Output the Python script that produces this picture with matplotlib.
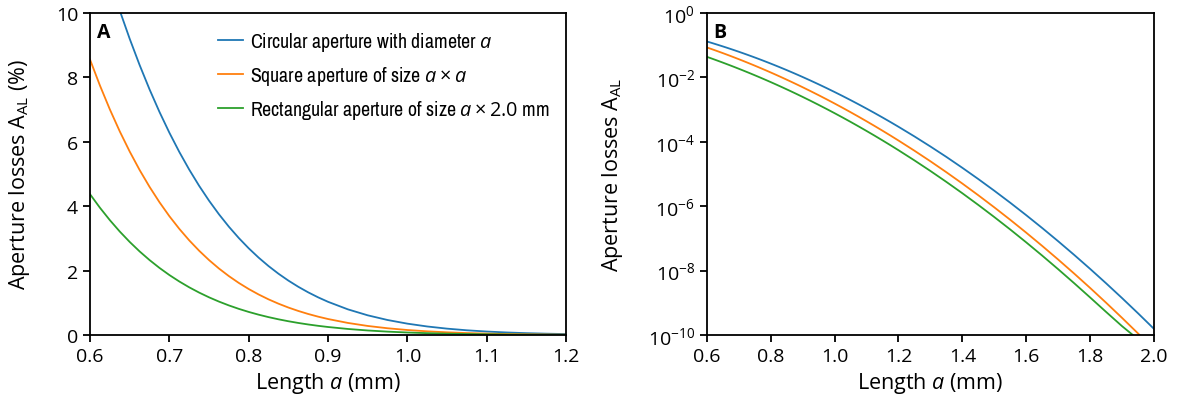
import matplotlib
matplotlib.use("Agg")
import matplotlib.pyplot as plt
from matplotlib import font_manager
from matplotlib.ticker import LogLocator, NullLocator, FormatStrFormatter

# Aperture length a (mm)
a_mm = [0.6000, 0.6125, 0.6250, 0.6375, 0.6500, 0.6625, 0.6750, 0.6875, 0.7000,
        0.7125, 0.7250, 0.7375, 0.7500, 0.7625, 0.7750, 0.7875, 0.8000, 0.8125,
        0.8250, 0.8375, 0.8500, 0.8625, 0.8750, 0.8875, 0.9000,
        0.925, 0.950, 0.975, 1.000, 1.025, 1.050, 1.075, 1.100, 1.125, 1.150,
        1.175, 1.200,
        1.25, 1.30, 1.35, 1.40, 1.45, 1.50, 1.55, 1.60, 1.65, 1.70, 1.75, 1.80,
        1.85, 1.90, 1.95, 2.00]

# Aperture losses (fraction of beam power)
loss_circular = [0.13092, 0.12018, 0.11012, 0.10073, 0.091979, 0.083840, 0.076284,
                 0.069289, 0.062824, 0.056861, 0.051374, 0.046335, 0.041715, 0.037490,
                 0.033634, 0.030121, 0.026928, 0.024031, 0.021407, 0.019037, 0.016899,
                 0.014975, 0.013246, 0.011696, 0.010309,
                 0.0079673, 0.0061141, 0.0046591, 0.0035252, 0.0026486, 0.0019760,
                 0.0014637, 0.0010768, 7.8646e-4, 5.7037e-4, 4.1076e-4, 2.9373e-4,
                 1.4705e-4, 7.1574e-5, 3.3953e-5, 1.5578e-5, 6.9658e-6, 3.0282e-6,
                 1.2798e-6, 5.2579e-7, 2.1000e-7, 8.1542e-8, 3.0780e-8, 1.1295e-8,
                 4.0296e-9, 1.3976e-9, 4.7119e-10, 1.5444e-10]

loss_square = [0.085525, 0.077469, 0.070046, 0.063220, 0.056971, 0.051240, 0.046016,
               0.041244, 0.036901, 0.032970, 0.029401, 0.026178, 0.023267, 0.020646,
               0.018291, 0.016175, 0.014281, 0.012586, 0.011072, 0.0097288, 0.008531,
               0.0074704, 0.0065291, 0.0056981, 0.0049642,
               0.0037489, 0.002811, 0.0020951, 0.0015510, 0.0011406, 8.3309e-4,
               6.0421e-4, 4.3549e-4, 3.1180e-4, 2.2175e-4, 1.5665e-4, 1.0985e-4,
               5.3001e-5, 2.4896e-5, 1.1371e-5, 5.0578e-6, 2.1878e-6, 9.2158e-7,
               3.7776e-7, 1.5054e-7, 5.8418e-8, 2.2036e-8, 8.0932e-9, 2.8917e-9,
               1.0043e-9, 3.3955e-10, 1.1158e-10, 3.5700e-11]

loss_rect = [0.043718, 0.039515, 0.035659, 0.032126, 0.028903, 0.025957, 0.023279,
             0.020839, 0.018624, 0.016623, 0.014810, 0.013176, 0.011702, 0.010377,
             0.0091876, 0.0081207, 0.0071661, 0.0063130, 0.0055515, 0.0048763,
             0.0042745, 0.0037422, 0.0032699, 0.0028531, 0.0024852,
             0.0018762, 0.0014065, 0.0010481, 7.7581e-4, 5.7044e-4, 4.1663e-4,
             3.0215e-4, 2.1777e-4, 1.5591e-4, 1.1088e-4, 7.8329e-5, 5.4927e-5,
             2.6501e-5, 1.2448e-5, 5.6855e-6, 2.5289e-6, 1.0939e-6, 4.6079e-7,
             1.8888e-7, 7.5272e-8, 2.9209e-8, 1.1036e-8, 4.0645e-9, 1.4637e-9,
             5.1998e-10, 1.8763e-10, 7.364e-11, 3.570e-11]

labels = ["Circular aperture with diameter $a$",
          "Square aperture of size $a \\times a$",
          "Rectangular aperture of size $a \\times 2.0$ mm"]
colors = ["#1f77b4", "#ff7f0e", "#2ca02c"]

xticks_a = [0.6, 0.7, 0.8, 0.9, 1.0, 1.1, 1.2]
yticks_a = [0, 2, 4, 6, 8, 10]
xticks_b = [0.6, 0.8, 1.0, 1.2, 1.4, 1.6, 1.8, 2.0]

names = {f.name for f in font_manager.fontManager.ttflist}
base_font = "Open Sans" if "Open Sans" in names else "DejaVu Sans"
narrow = sorted(n for n in names if "Narrow" in n or "Condensed" in n)
if narrow:
    legend_font = narrow[0]
elif "Roboto" in names:
    legend_font = "Roboto"
else:
    legend_font = base_font

plt.rcParams["font.family"] = [base_font, "DejaVu Sans"]
plt.rcParams["mathtext.fontset"] = "custom"
plt.rcParams["mathtext.rm"] = base_font
plt.rcParams["mathtext.it"] = base_font + ":italic"
plt.rcParams["mathtext.bf"] = base_font + ":bold"
plt.rcParams["axes.linewidth"] = 1.3
for ax_name in ("xtick", "ytick"):
    plt.rcParams[f"{ax_name}.major.width"] = 1.3
    plt.rcParams[f"{ax_name}.major.size"] = 5
    plt.rcParams[f"{ax_name}.labelsize"] = 14
    plt.rcParams[f"{ax_name}.color"] = "black"

LABEL_SIZE = 15.5

fig = plt.figure(figsize=(11.8, 4.14), dpi=100)
ax1 = fig.add_axes([0.0763, 0.1884, 0.4034, 0.7778])
ax2 = fig.add_axes([0.5989, 0.1884, 0.3791, 0.7778])

series = [loss_circular, loss_square, loss_rect]

# Panel A: linear scale, percent
for vals, lab, col in zip(series, labels, colors):
    ax1.plot(a_mm, [v * 100 for v in vals], color=col, lw=1.3, label=lab)
ax1.set_xlim(0.6, 1.2)
ax1.set_ylim(0, 10)
ax1.set_xticks(xticks_a)
ax1.set_yticks(yticks_a)
ax1.xaxis.set_major_formatter(FormatStrFormatter("%.1f"))
ax1.set_xlabel("Length $a$ (mm)", fontsize=LABEL_SIZE)
ax1.set_ylabel("Aperture losses A$_{\\mathrm{AL}}$ (%)", fontsize=LABEL_SIZE)
ax1.yaxis.set_label_coords(-0.122, 0.5)
ax1.text(0.015, 0.94, "A", transform=ax1.transAxes, fontsize=14,
         fontweight="bold", va="center", ha="left")


def make_legend(size):
    return ax1.legend(loc="upper left", bbox_to_anchor=(0.269, 0.947),
                      frameon=False, borderpad=0, borderaxespad=0,
                      handlelength=1.25, handletextpad=0.35,
                      labelspacing=34.7 / (size * 100 / 72) - 1.2,
                      prop={"family": legend_font, "stretch": "condensed",
                            "size": size})


# fit the legend font so the longest entry spans its intended width
leg_size = 14
leg = make_legend(leg_size)
fig.canvas.draw()
widest = max(t.get_window_extent().width for t in leg.get_texts())
leg_size = leg_size * 300.0 / widest
leg.remove()
leg = make_legend(leg_size)

# Panel B: log scale, fraction
for vals, col in zip(series, colors):
    ax2.plot(a_mm, vals, color=col, lw=1.3)
ax2.set_yscale("log")
ax2.set_xlim(0.6, 2.0)
ax2.set_ylim(1e-10, 1)
ax2.set_xticks(xticks_b)
ax2.xaxis.set_major_formatter(FormatStrFormatter("%.1f"))
ax2.yaxis.set_major_locator(LogLocator(base=100))
ax2.yaxis.set_minor_locator(NullLocator())
ax2.set_xlabel("Length $a$ (mm)", fontsize=LABEL_SIZE)
ax2.set_ylabel("Aperture losses A$_{\\mathrm{AL}}$", fontsize=LABEL_SIZE)
ax2.yaxis.set_label_coords(-0.182, 0.5)
ax2.text(0.015, 0.94, "B", transform=ax2.transAxes, fontsize=14,
         fontweight="bold", va="center", ha="left")

fig.savefig("out.png", dpi=100)
